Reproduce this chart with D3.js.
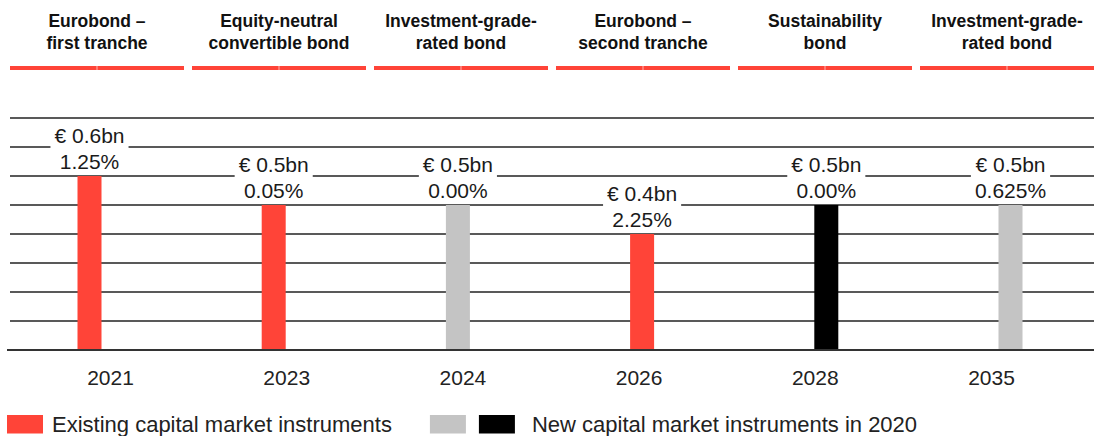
<!DOCTYPE html>
<html>
<head>
<meta charset="utf-8">
<script src="https://cdn.jsdelivr.net/npm/d3@7"></script>
<style>
  html, body { margin: 0; padding: 0; background: #fff; }
  svg { display: block; }
  text { font-family: "Liberation Sans", Arial, sans-serif; }
</style>
</head>
<body>
<div id="chart"></div>
<script>
// Maturity profile of capital market instruments
const years    = ["2021", "2023", "2024", "2026", "2028", "2035"];
const titles   = [
  ["Eurobond –", "first tranche"],
  ["Equity-neutral", "convertible bond"],
  ["Investment-grade-", "rated bond"],
  ["Eurobond –", "second tranche"],
  ["Sustainability", "bond"],
  ["Investment-grade-", "rated bond"]
];
const amounts  = [0.6, 0.5, 0.5, 0.4, 0.5, 0.5];          // € bn
const coupons  = ["1.25%", "0.05%", "0.00%", "2.25%", "0.00%", "0.625%"];
const kinds    = ["existing", "existing", "new", "existing", "sustainable", "new"];
const yTicks   = [0, 0.1, 0.2, 0.3, 0.4, 0.5, 0.6, 0.7, 0.8];
const legendItems = [
  { label: "Existing capital market instruments", kinds: ["existing"] },
  { label: "New capital market instruments in 2020", kinds: ["new", "sustainable"] }
];

const W = 1094, H = 436;
const colors = { existing: "#ff4438", new: "#c4c4c4", sustainable: "#000000" };

const svg = d3.select("#chart").append("svg")
  .attr("width", W).attr("height", H);

// scales
const headerX = d3.scaleBand().domain(years).range([10, 1094]).paddingInner(0.044).paddingOuter(0);
const barX    = d3.scalePoint().domain(years).range([89.5, 1010.5]);
const yearX   = d3.scalePoint().domain(years).range([110, 991]);
const y       = d3.scaleLinear().domain([0, 0.8]).range([350, 118]);
const barW = 24;

// column headers
const head = svg.append("g").selectAll("g").data(years).join("g");
head.append("rect")
  .attr("x", d => headerX(d)).attr("y", 66)
  .attr("width", headerX.bandwidth() / 2 - 0.3).attr("height", 4)
  .attr("fill", colors.existing);
head.append("rect")
  .attr("x", d => headerX(d) + headerX.bandwidth() / 2 + 0.3).attr("y", 66)
  .attr("width", headerX.bandwidth() / 2 - 0.3).attr("height", 4)
  .attr("fill", colors.existing);
head.append("text")
  .attr("text-anchor", "middle")
  .attr("font-weight", "bold")
  .attr("font-size", 17.5)
  .attr("fill", "#111")
  .selectAll("tspan")
  .data((d, i) => titles[i].map(t => ({ t, x: headerX(d) + headerX.bandwidth() / 2 })))
  .join("tspan")
  .attr("x", d => d.x)
  .attr("y", (d, i) => 27 + i * 22)
  .text(d => d.t);

// horizontal grid
svg.append("g").selectAll("line").data(yTicks.filter(t => t > 0)).join("line")
  .attr("x1", 10).attr("x2", W)
  .attr("y1", d => y(d)).attr("y2", d => y(d))
  .attr("stroke", "#222").attr("stroke-width", 1.3);

// value labels with white backing
const lab = svg.append("g").selectAll("g").data(years).join("g");
lab.each(function (d, i) {
  const g = d3.select(this);
  const cx = barX(d), top = y(amounts[i]);
  const bg = g.append("rect").attr("fill", "#fff");
  const t1 = g.append("text")
    .attr("x", cx).attr("y", top - 33)
    .attr("text-anchor", "middle").attr("font-size", 21).attr("fill", "#1a1a1a")
    .text("€ " + amounts[i] + "bn");
  const t2 = g.append("text")
    .attr("x", cx).attr("y", top - 7)
    .attr("text-anchor", "middle").attr("font-size", 21).attr("fill", "#1a1a1a")
    .text(coupons[i]);
  const w = Math.max(t1.node().getComputedTextLength(), t2.node().getComputedTextLength());
  bg.attr("x", cx - w / 2 - 4).attr("width", w + 8)
    .attr("y", top - 50).attr("height", 46);
});

// bars
svg.append("g").selectAll("rect").data(years).join("rect")
  .attr("x", d => barX(d) - barW / 2)
  .attr("y", (d, i) => y(amounts[i]))
  .attr("width", barW)
  .attr("height", (d, i) => y(0) - y(amounts[i]))
  .attr("fill", (d, i) => colors[kinds[i]]);

// baseline
svg.append("line")
  .attr("x1", 7).attr("x2", W)
  .attr("y1", y(0)).attr("y2", y(0))
  .attr("stroke", "#333").attr("stroke-width", 2.2);

// year axis
const xAxis = svg.append("g")
  .attr("transform", "translate(0,364)")
  .call(d3.axisBottom(yearX).tickSize(0).tickPadding(0));
xAxis.select(".domain").remove();
xAxis.selectAll("text")
  .attr("font-family", "Liberation Sans, Arial, sans-serif")
  .attr("font-size", 21)
  .attr("fill", "#222")
  .attr("dy", 0).attr("y", 21);

// legend: swatches followed by their label
const legend = svg.append("g");
const swatchGap = 13, textGaps = [9, 17], itemGap = 38;
let lx = 7;
legendItems.forEach((item, k) => {
  item.kinds.forEach((kind, j) => {
    legend.append("rect")
      .attr("x", lx).attr("y", 415)
      .attr("width", 36).attr("height", 18.5)
      .attr("fill", colors[kind]);
    lx += 36 + (j < item.kinds.length - 1 ? swatchGap : textGaps[k]);
  });
  const t = legend.append("text")
    .attr("x", lx).attr("y", 432)
    .attr("font-size", 22).attr("fill", "#222")
    .text(item.label);
  lx += t.node().getComputedTextLength() + itemGap;
});
</script>
</body>
</html>
